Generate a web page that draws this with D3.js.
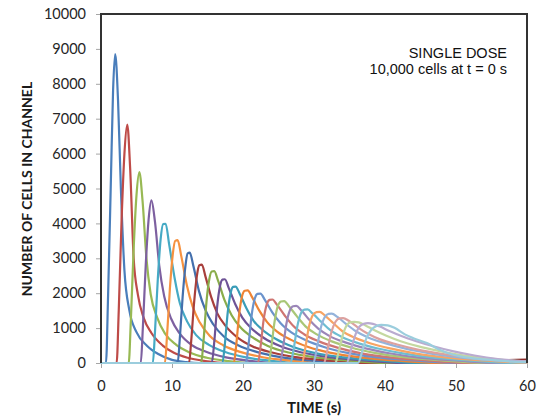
<!DOCTYPE html>
<html>
<head>
<meta charset="utf-8">
<script src="https://cdnjs.cloudflare.com/ajax/libs/d3/7.8.5/d3.min.js"></script>
<style>
  body { margin: 0; background: #fff; }
</style>
</head>
<body>
<div id="chart"></div>
<script>
// tick labels
var xTicks = [0, 10, 20, 30, 40, 50, 60];
var yTicks = [0, 1000, 2000, 3000, 4000, 5000, 6000, 7000, 8000, 9000, 10000];

// one [time (s), cells] list per channel
var ch01 = [[0,0],[0.7,0],[1.0,1950],[1.4,5300],[1.7,7800],[2.0,8850],[2.4,7520],[2.8,5000],[3.3,2655],[4.0,1500],[5.0,885],[6.5,490],[8.0,265],[10,90],[12,27],[14,0],[60,0]];
var ch02 = [[0,0],[2.2,0],[2.5,1500],[2.9,4100],[3.3,6000],[3.7,6830],[4.1,5600],[4.6,3000],[5.2,1950],[6.0,1300],[7.1,860],[8.7,500],[10.2,300],[12.2,150],[14.7,55],[17.7,0],[60,0]];
var ch03 = [[0,0],[3.9,0],[4.2,1200],[4.6,3280],[5.0,4810],[5.4,5470],[5.85,4650],[6.4,3000],[7.0,1970],[7.9,1310],[9.0,850],[10.6,520],[12.4,310],[14.9,150],[17.9,55],[21.4,0],[60,0]];
var ch04 = [[0,0],[5.6,0],[5.9,1030],[6.3,2800],[6.7,4100],[7.1,4660],[7.6,4050],[8.2,2800],[8.9,1910],[9.9,1260],[11.1,840],[12.8,510],[14.8,320],[17.6,160],[21.1,60],[25,0],[60,0]];
var ch05 = [[0,0],[7.3,0],[7.6,880],[8.0,2400],[8.4,3550],[8.75,3980],[9.1,3990],[9.6,3400],[10.4,2400],[11.1,1720],[12.1,1200],[13.4,800],[15.2,520],[17.4,320],[20.4,160],[23.9,64],[28,0],[60,0]];
var ch06 = [[0,0],[9.0,0],[9.3,780],[9.7,2120],[10.1,3100],[10.45,3500],[10.8,3520],[11.3,3070],[12.1,2220],[12.9,1620],[13.9,1165],[15.3,780],[17.2,510],[19.6,320],[22.8,165],[26.6,70],[31,0],[60,0]];
var ch07 = [[0,0],[10.8,0],[11.1,700],[11.5,1900],[11.9,2790],[12.2,3140],[12.5,3160],[13.0,2790],[13.8,2060],[14.7,1520],[15.8,1110],[17.3,760],[19.3,510],[21.9,320],[25.3,170],[29.3,73],[34,0],[60,0]];
var ch08 = [[0,0],[12.4,0],[12.7,620],[13.1,1700],[13.5,2490],[13.85,2800],[14.2,2820],[14.7,2490],[15.5,1900],[16.4,1415],[17.6,1050],[19.2,735],[21.3,480],[24.1,300],[27.7,160],[32,70],[37,0],[60,0]];
var ch09 = [[0,0],[14.1,0],[14.45,660],[14.85,1740],[15.25,2400],[15.6,2620],[15.95,2630],[16.5,2350],[17.4,1800],[18.4,1370],[19.6,1030],[21.3,740],[23.5,490],[26.4,300],[30.1,165],[34.6,75],[40,0],[60,0]];
var ch10 = [[0,0],[15.6,0],[15.95,600],[16.35,1590],[16.75,2190],[17.1,2390],[17.45,2400],[18.0,2145],[18.9,1690],[19.9,1300],[21.2,990],[23,710],[25.3,480],[28.3,300],[32.2,165],[36.9,75],[42.5,0],[60,0]];
var ch11 = [[0,0],[17.1,0],[17.45,550],[17.85,1450],[18.25,2000],[18.6,2180],[18.95,2190],[19.55,1980],[20.5,1560],[21.5,1210],[22.9,925],[24.7,680],[27.1,460],[30.2,285],[34.2,160],[39,73],[45,0],[60,0]];
var ch12 = [[0,0],[18.7,0],[19.05,520],[19.45,1380],[19.85,1900],[20.25,2070],[20.65,2080],[21.3,1880],[22.3,1500],[23.4,1170],[24.8,900],[26.7,670],[29.2,460],[32.4,290],[36.5,160],[41.4,73],[47.5,0],[60,0]];
var ch13 = [[0,0],[20.4,0],[20.8,560],[21.2,1340],[21.65,1840],[22.05,1980],[22.45,1990],[23.1,1800],[24.1,1460],[25.3,1140],[26.8,880],[28.8,660],[31.4,460],[34.7,290],[38.9,160],[43.9,74],[50,0],[60,0]];
var ch14 = [[0,0],[22.1,0],[22.5,510],[22.9,1230],[23.35,1680],[23.75,1810],[24.15,1820],[24.8,1665],[25.9,1355],[27.1,1060],[28.6,825],[30.7,620],[33.3,440],[36.7,275],[41,155],[46,73],[52,0],[60,0]];
var ch15 = [[0,0],[23.6,0],[24.0,480],[24.45,1190],[24.9,1630],[25.35,1760],[25.8,1775],[26.5,1620],[27.6,1335],[28.8,1050],[30.4,820],[32.5,620],[35.2,445],[38.7,285],[43,160],[48,75],[54,0],[60,0]];
var ch16 = [[0,0],[25.2,0],[25.65,460],[26.1,1110],[26.6,1510],[27.05,1625],[27.5,1635],[28.2,1510],[29.3,1245],[30.6,985],[32.2,770],[34.4,590],[37.1,425],[40.6,280],[44.9,155],[50,74],[56,0],[60,0]];
var ch17 = [[0,0],[26.7,0],[27.15,420],[27.65,1050],[28.15,1420],[28.65,1530],[29.1,1535],[29.8,1420],[31,1185],[32.3,940],[34,740],[36.2,570],[39,415],[42.5,277],[46.8,155],[51.8,74],[58,0],[60,0]];
var ch18 = [[0,0],[28.3,0],[28.75,400],[29.25,1000],[29.8,1360],[30.35,1460],[30.8,1465],[31.5,1365],[32.7,1145],[34,910],[35.8,720],[38,560],[40.9,410],[44.4,270],[48.8,155],[53.8,74],[60,0]];
var ch19 = [[0,0],[29.9,0],[30.4,420],[30.9,960],[31.5,1310],[32.05,1410],[32.5,1415],[33.3,1320],[34.5,1120],[35.9,910],[37.7,725],[40,570],[42.9,410],[46.5,270],[50.8,155],[55.5,78],[60,20]];
var ch20 = [[0,0],[31.4,0],[31.9,380],[32.45,880],[33.05,1190],[33.6,1280],[34.1,1285],[34.9,1210],[36.1,1030],[37.6,840],[39.4,670],[41.7,530],[44.6,385],[48.2,258],[52.4,148],[57,71],[60,40]];
var ch21 = [[0,0],[33.0,0],[33.5,350],[34.05,800],[34.65,1090],[35.2,1170],[35.7,1180],[36.3,1165],[37.2,1085],[38.6,930],[40.2,780],[42.2,625],[44.6,485],[47.4,355],[50.7,225],[54.5,130],[58.5,60],[60,45]];
var ch22 = [[0,0],[34.6,0],[35.15,330],[35.75,760],[36.4,1040],[37.0,1120],[37.6,1140],[38.3,1120],[39.2,1050],[40.7,910],[42.4,765],[44.4,625],[46.8,480],[49.5,340],[52.6,215],[55.9,115],[60,45]];
var ch23 = [[0,0],[36.2,0],[36.8,340],[37.4,720],[38.1,960],[38.8,1060],[39.5,1090],[40.4,1080],[41.4,1000],[42.8,820],[44,710],[45.9,570],[47.7,380],[49.6,235],[52.4,135],[55.3,85],[58,40],[60,25]];
var chExit = [[0,0],[54.5,0],[56,25],[57,80],[60,95]];

// drawing order: exit channel underneath, then channels 1..23
var channels = [chExit, ch01, ch02, ch03, ch04, ch05, ch06, ch07, ch08, ch09, ch10, ch11, ch12,
                ch13, ch14, ch15, ch16, ch17, ch18, ch19, ch20, ch21, ch22, ch23];
var colors = ['#8b2c2a',
  '#4a7ebb', '#be4b48', '#98b954', '#7d60a0', '#46aac5', '#f69240',
  '#4470ad', '#a83f3c', '#8aad4b', '#6e5396', '#3a9db8', '#ee8435',
  '#6b93cc', '#cf7572', '#a9c777', '#9b86b8', '#6ebdd2', '#f7a464',
  '#94b3db', '#dca19f', '#c4d8a0', '#baabd0', '#9bcddd'];

var width = 540, height = 420;

var svg = d3.select('#chart').append('svg')
  .attr('width', width)
  .attr('height', height);

var x = d3.scaleLinear().domain([0, 60]).range([101, 527]);
var y = d3.scaleLinear().domain([0, 10000]).range([363, 14]);

// axes
var yAxis = svg.append('g')
  .attr('transform', 'translate(' + x(0) + ',0)')
  .call(d3.axisLeft(y).tickValues(yTicks).tickSize(5).tickPadding(10).tickFormat(d3.format('d')));
var xAxis = svg.append('g')
  .attr('transform', 'translate(0,' + y(0) + ')')
  .call(d3.axisBottom(x).tickValues(xTicks).tickSize(5).tickPadding(13).tickFormat(d3.format('d')));

[xAxis, yAxis].forEach(function(g) {
  g.select('.domain').remove();
  g.selectAll('.tick line').attr('stroke', '#a6a6a6');
  g.selectAll('.tick text')
    .attr('fill', '#262626')
    .style('font-family', 'Lato, "Open Sans", sans-serif')
    .style('font-size', '14.5px');
});

// bottom axis line
svg.append('line')
  .attr('x1', x(0)).attr('x2', x(60))
  .attr('y1', y(0)).attr('y2', y(0))
  .attr('stroke', '#a6a6a6')
  .attr('stroke-width', 1.5);

var line = d3.line()
  .x(function(d) { return x(d[0]); })
  .y(function(d) { return y(d[1]); })
  .curve(d3.curveMonotoneX);

svg.append('g').selectAll('path')
  .data(channels)
  .enter()
  .append('path')
  .attr('d', line)
  .attr('fill', 'none')
  .attr('stroke', function(d, i) { return colors[i]; })
  .attr('stroke-width', 2.2)
  .attr('stroke-linejoin', 'round')
  .attr('stroke-linecap', 'round');

// plot frame (left, top, right)
svg.append('path')
  .attr('d', 'M' + x(0) + ',' + y(0) + 'V' + y(10000) + 'H' + x(60) + 'V' + y(0))
  .attr('fill', 'none')
  .attr('stroke', '#333')
  .attr('stroke-width', 2);

// axis titles
svg.append('text')
  .attr('x', 314).attr('y', 413)
  .attr('text-anchor', 'middle')
  .style('font-family', 'Lato, "Open Sans", sans-serif')
  .style('font-weight', 'bold')
  .style('font-size', '15px')
  .attr('fill', '#1a1a1a')
  .text('TIME (s)');

svg.append('text')
  .attr('transform', 'translate(32,189) rotate(-90)')
  .attr('text-anchor', 'middle')
  .style('font-family', 'Lato, "Open Sans", sans-serif')
  .style('font-weight', 'bold')
  .style('font-size', '14px')
  .attr('fill', '#1a1a1a')
  .text('NUMBER OF CELLS IN CHANNEL');

// note
var note = svg.append('g')
  .style('font-family', '"Liberation Sans", Arial, sans-serif')
  .style('font-size', '14.5px')
  .attr('fill', '#111')
  .attr('text-anchor', 'end');
note.append('text').attr('x', 507).attr('y', 58).text('SINGLE DOSE');
note.append('text').attr('x', 507).attr('y', 74).text('10,000 cells at t = 0 s');
</script>
</body>
</html>
